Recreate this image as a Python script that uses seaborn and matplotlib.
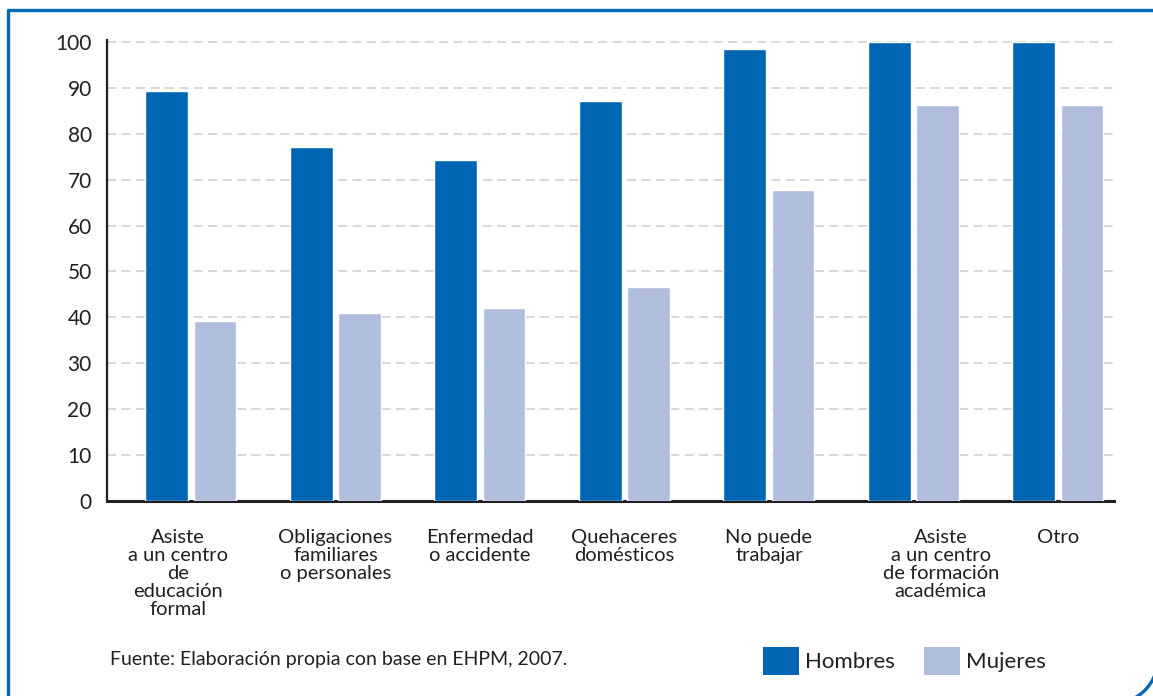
import pandas as pd
import numpy as np
import matplotlib
matplotlib.use("Agg")
import matplotlib.pyplot as plt
import seaborn as sns
from matplotlib.patches import Patch, Arc

# Data (percent)
categorias = ["Asiste\na un centro\nde\neducación\nformal",
              "Obligaciones\nfamiliares\no personales",
              "Enfermedad\no accidente",
              "Quehaceres\ndomésticos",
              "No puede\ntrabajar",
              "Asiste\na un centro\nde formación\nacadémica",
              "Otro"]
hombres = [89.4, 77.0, 74.3, 87.2, 98.4, 100.0, 100.0]
mujeres = [39.2, 41.0, 42.1, 46.7, 67.7, 86.3, 86.3]
series = ["Hombres", "Mujeres"]
y_ticks = [0, 10, 20, 30, 40, 50, 60, 70, 80, 90, 100]
fuente = "Fuente: Elaboración propia con base en EHPM, 2007."

azul = "#0066b3"
lila = "#b0bddc"
texto = "#231f20"
marco = "#0068b4"

sns.set_style("white")
plt.rcParams['font.family'] = ['Lato', 'DejaVu Sans']

df = pd.DataFrame({
    "cat": categorias * 2,
    "valor": hombres + mujeres,
    "sexo": [series[0]] * len(categorias) + [series[1]] * len(categorias),
})

W, H = 1153, 696
fig = plt.figure(figsize=(W / 100, H / 100), dpi=100)

# background axes in pixel units (y down), used for the outer frame
bg = fig.add_axes([0, 0, 1, 1], zorder=-1)
bg.set_xlim(0, W)
bg.set_ylim(H, 0)
bg.axis("off")
r = 45
bg.plot([7.5, 7.5, 1158], [H + 20, 10, 10], color=marco, lw=2.4, solid_capstyle="butt")
bg.add_patch(Arc((1158 - r, 703.5 - r), 2 * r, 2 * r, theta1=0, theta2=90,
                 color=marco, lw=2.4))

ax = fig.add_axes([107 / W, 195 / H, (1114 - 107) / W, 461 / H])
ax.patch.set_alpha(0)

sns.barplot(data=df, x="cat", y="valor", hue="sexo", order=categorias,
            hue_order=series, palette=[azul, lila], width=0.67, gap=0.12,
            saturation=1, legend=False, ax=ax, zorder=3)

ax.set_xlim(-0.581, 6.388)
ax.set_ylim(0, 100.4)
ax.set_xlabel("")
ax.set_ylabel("")

# grid
ax.set_yticks(y_ticks)
ax.yaxis.grid(True, linestyle=(0, (5, 3)), color="#d4d4d4", linewidth=1.3, zorder=0)
ax.xaxis.grid(False)
ax.set_axisbelow(True)

# tick labels (some labels are shifted off-centre in the original)
desplaz = [-0.09, 0, 0, 0, 0, 0.19, 0]
ax.set_xticks(np.arange(len(categorias)) + np.array(desplaz))
ax.set_xticklabels(categorias, fontsize=14.5, color=texto, linespacing=1.08,
                   va="top")
ax.tick_params(axis="x", length=0, pad=20)
ax.tick_params(axis="y", length=0, pad=11, labelsize=15, labelcolor=texto)

for s in ["top", "right"]:
    ax.spines[s].set_visible(False)
ax.spines["left"].set_color(texto)
ax.spines["left"].set_linewidth(1.6)
ax.spines["bottom"].set_color(texto)
ax.spines["bottom"].set_linewidth(2.2)

# legend
handles = [Patch(facecolor=azul, edgecolor="none"), Patch(facecolor=lila, edgecolor="none")]
fig.legend(handles, series, loc="center left", bbox_to_anchor=(763 / W, (H - 661) / H),
           frameon=False, ncol=2, fontsize=16, borderpad=0, borderaxespad=0,
           handlelength=1.6, handleheight=1.6, handletextpad=0.3, columnspacing=1.3,
           labelcolor=texto)

fig.text(110 / W, (H - 660) / H, fuente, fontsize=14, color=texto, va="center", ha="left")

fig.savefig("out.png", dpi=100)
